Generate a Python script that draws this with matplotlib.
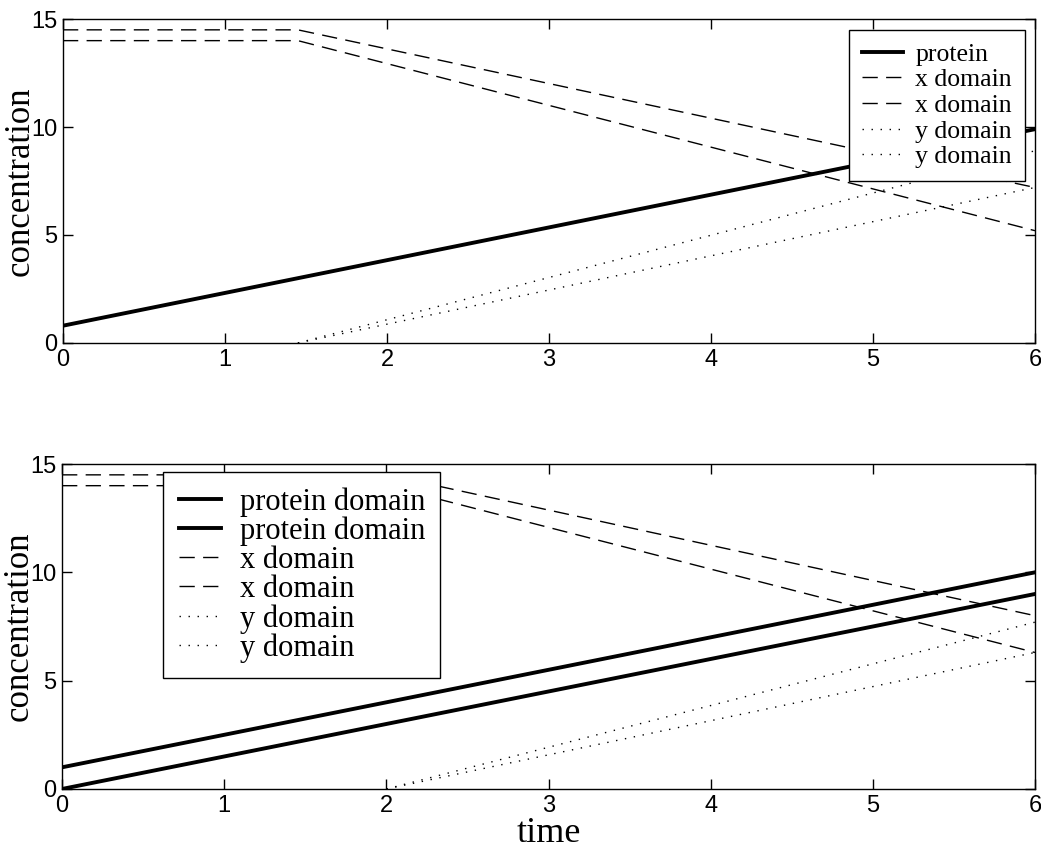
import matplotlib
matplotlib.use('Agg')
import matplotlib.pyplot as plt

# top panel
top_t = [0, 1.45, 6]
top_protein = [0.8, 3.0, 9.9]
top_x1 = [14.5, 14.5, 7.2]
top_x2 = [14.0, 14.0, 5.2]
top_y1 = [0, 0, 8.9]
top_y2 = [0, 0, 7.2]

# bottom panel
bot_t = [0, 2.0, 6]
bot_protein1 = [1.0, 4.0, 10.0]
bot_protein2 = [0.0, 3.0, 9.0]
bot_x1 = [14.5, 14.5, 8.0]
bot_x2 = [14.0, 14.0, 6.3]
bot_y1 = [0, 0, 7.7]
bot_y2 = [0, 0, 6.3]

SERIF = 'Liberation Serif'
SANS = 'Liberation Sans'
DASH = (11, 6)
DOT = (1, 5.5)


def style_axes(ax):
    ax.set_xlim(0, 6)
    ax.set_ylim(0, 15)
    ax.set_xticks(range(7))
    ax.set_yticks([0, 5, 10, 15])
    ax.tick_params(direction='in', length=7, width=1, top=True, right=True,
                   labelsize=17, pad=4)
    for lab in ax.get_xticklabels() + ax.get_yticklabels():
        lab.set_fontfamily(SANS)
    for s in ax.spines.values():
        s.set_linewidth(1)
    ax.set_ylabel('concentration', fontsize=25, family=SERIF)
    ax.yaxis.set_label_coords(-0.027, 0.5)


def make_legend(ax, loc, anchor, size, hl, spacing, textpad, pad):
    leg = ax.legend(loc=loc, bbox_to_anchor=anchor,
                    prop={'family': SERIF, 'size': size}, frameon=True,
                    fancybox=False, edgecolor='black', framealpha=1,
                    handlelength=hl, labelspacing=spacing, borderpad=pad,
                    handletextpad=textpad, borderaxespad=0)
    leg.get_frame().set_linewidth(1)


def plot_top(ax):
    ax.plot(top_t, top_protein, color='black', lw=2.8, label='protein')
    ax.plot(top_t, top_x1, color='black', lw=1, dashes=DASH, label='x domain')
    ax.plot(top_t, top_x2, color='black', lw=1, dashes=DASH, label='x domain')
    ax.plot(top_t[1:], top_y1[1:], color='black', lw=1, dashes=DOT, label='y domain')
    ax.plot(top_t[1:], top_y2[1:], color='black', lw=1, dashes=DOT, label='y domain')
    style_axes(ax)
    make_legend(ax, 'upper right', (0.9897, 0.966), 18.5, 1.6, 0.1, 0.5, 0.5)


def plot_bottom(ax):
    ax.plot(bot_t, bot_protein1, color='black', lw=2.8, label='protein domain')
    ax.plot(bot_t, bot_protein2, color='black', lw=2.8, label='protein domain')
    ax.plot(bot_t, bot_x1, color='black', lw=1, dashes=DASH, label='x domain')
    ax.plot(bot_t, bot_x2, color='black', lw=1, dashes=DASH, label='x domain')
    ax.plot(bot_t[1:], bot_y1[1:], color='black', lw=1, dashes=DOT, label='y domain')
    ax.plot(bot_t[1:], bot_y2[1:], color='black', lw=1, dashes=DOT, label='y domain')
    style_axes(ax)
    ax.set_xlabel('time', fontsize=26, family=SERIF, labelpad=0)
    make_legend(ax, 'upper left', (0.104, 0.976), 22, 1.4, 0.0, 0.6, 0.5)


def main():
    fig = plt.figure(figsize=(10.41, 8.5), dpi=100)
    ax1 = fig.add_axes([0.0605, 0.5965, 0.9337, 0.3811])
    ax2 = fig.add_axes([0.0596, 0.0718, 0.9346, 0.3823])
    plot_top(ax1)
    plot_bottom(ax2)
    fig.savefig('out.png', dpi=100)


if __name__ == "__main__":
    main()
